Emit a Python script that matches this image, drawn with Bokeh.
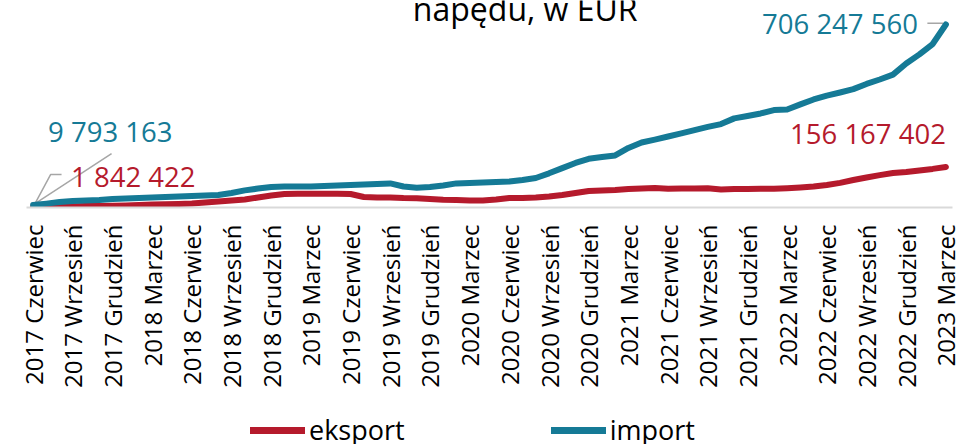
import math
from bokeh.plotting import figure
from bokeh.layouts import column
from bokeh.models import Label, Legend, LegendItem, FixedTicker, Range1d
from bokeh.embed import file_html
from bokeh.resources import INLINE

# ---------------- data ----------------
month_names = ["Styczeń", "Luty", "Marzec", "Kwiecień", "Maj", "Czerwiec", "Lipiec",
               "Sierpień", "Wrzesień", "Październik", "Listopad", "Grudzień"]
categories = [f"{2017 + (5 + k) // 12} {month_names[(5 + k) % 12]}" for k in range(70)]

# values in million EUR
import_mln = [9.793163, 15, 21, 25, 27, 29, 33, 35, 37, 39,
              40.5, 42.5, 44, 46, 48, 56, 66, 73, 79, 81,
              81, 81, 83, 85, 87, 89, 91, 93, 81, 76,
              79, 85, 93, 95, 96.5, 98, 100, 106, 114, 132,
              152, 172, 188, 195, 201, 230, 251, 262, 274, 286,
              299, 311, 322, 344, 353, 363, 376, 378, 398, 417,
              432, 444, 457, 477, 494, 513, 556, 591, 631, 706.24756]
eksport_mln = [1.842422, 2.7, 3.9, 4.6, 5.4, 5.8, 6.6, 7.7, 9.7, 11.6,
               12.4, 13.5, 15.4, 19, 23, 27, 31, 38.6, 46, 52,
               53, 53, 53, 53, 52, 40.5, 38.6, 38.6, 36.7, 36,
               33, 30, 29, 27, 27, 31, 36.7, 36.7, 38.6, 42.5,
               48, 56, 64, 66, 67.5, 71, 73, 75, 72, 73,
               73, 74, 69.5, 71, 71, 72, 72, 74, 77, 81,
               87, 95, 106, 116, 125, 133, 137, 143, 149, 156.167402]
series_names = ["eksport", "import"]
assert len(import_mln) == len(eksport_mln) == len(categories) == 70

imp = [v * 1e6 for v in import_mln]
eks = [v * 1e6 for v in eksport_mln]
x = list(range(len(categories)))
tick_idx = list(range(0, len(categories), 3))


def fmt(v):
    return f"{int(round(v)):,}".replace(",", " ")


TEAL = "#157A96"
RED = "#B51A2C"
GREY = "#A6A6A6"
FONT = "Open Sans"

# ---------------- main figure ----------------
p = figure(width=961, height=410, x_range=Range1d(-0.5, len(categories) - 0.5),
           y_range=Range1d(0, 799e6), output_backend="svg", toolbar_location=None,
           y_axis_location=None, min_border_left=26, min_border_right=9,
           min_border_top=0, min_border_bottom=203)
p.outline_line_color = None
p.grid.visible = False
p.background_fill_color = "white"
p.border_fill_color = "white"

ax = p.xaxis[0]
ax.ticker = FixedTicker(ticks=tick_idx)
ax.major_label_overrides = {i: categories[i] for i in tick_idx}
ax.major_label_orientation = math.pi / 2
ax.major_tick_line_color = None
ax.minor_tick_line_color = None
ax.major_tick_out = 0
ax.major_tick_in = 0
ax.major_label_standoff = 17
ax.major_label_text_font = FONT
ax.major_label_text_font_size = "24px"
ax.major_label_text_color = "black"
ax.axis_line_color = "#D9D9D9"
ax.axis_line_width = 2

# leader lines
p.line([0, 5.93], [imp[0], 208e6], color=GREY, line_width=1.5)
p.line([0, 1.32, 2.15], [eks[0], 127e6, 127e6], color=GREY, line_width=1.5)
p.line([67.6, 68.74, x[-1]], [711e6, 711e6, imp[-1]], color=GREY, line_width=1.5)

p.line(x, eks, color=RED, line_width=6, line_cap="round", line_join="round")
p.line(x, imp, color=TEAL, line_width=6, line_cap="round", line_join="round")


# data labels
def add_label(xv, yv, text, color, xo, yo, align):
    p.add_layout(Label(x=xv, y=yv, text=text, x_offset=xo, y_offset=yo,
                       text_font=FONT, text_font_size="27.5px", text_color=color,
                       text_align=align, text_baseline="middle"))


add_label(x[0], imp[0], fmt(imp[0]), TEAL, 15, 73.5, "left")
add_label(x[0], eks[0], fmt(eks[0]), RED, 38, 30.5, "left")
add_label(x[-1], imp[-1], fmt(imp[-1]), TEAL, -28, 1, "right")
add_label(x[-1], eks[-1], fmt(eks[-1]), RED, 0, 33.5, "right")

# title (visible part)
p.add_layout(Label(x=37.2, y=770e6, text="napędu, w EUR", text_font=FONT,
                   text_font_size="32px", text_color="black",
                   text_align="center", text_baseline="alphabetic"))

# ---------------- legend strip ----------------
q = figure(width=961, height=34, x_range=Range1d(0, 1), y_range=Range1d(0, 1),
           output_backend="svg", toolbar_location=None,
           x_axis_location=None, y_axis_location=None,
           min_border_left=0, min_border_right=0, min_border_top=0, min_border_bottom=0)
q.outline_line_color = None
q.grid.visible = False
q.background_fill_color = "white"
q.border_fill_color = "white"
# legend proxies (outside the strip's visible range, only their styles are shown)
le = q.line([x[0]], [eks[0]], color=RED, line_width=7, line_cap="round")
li = q.line([x[0]], [imp[0]], color=TEAL, line_width=7, line_cap="round")

legend = Legend(items=[LegendItem(label=series_names[0], renderers=[le]),
                       LegendItem(label=series_names[1], renderers=[li])],
                orientation="horizontal", location=(224, -4),
                label_text_font=FONT, label_text_font_size="27px",
                label_text_color="black", glyph_width=55, glyph_height=36,
                label_height=36, label_standoff=4, spacing=146, padding=0,
                margin=0, border_line_color=None, background_fill_alpha=0)
q.add_layout(legend)

layout = column(p, q, spacing=0)
open("out.html", "w").write(file_html(layout, INLINE))
